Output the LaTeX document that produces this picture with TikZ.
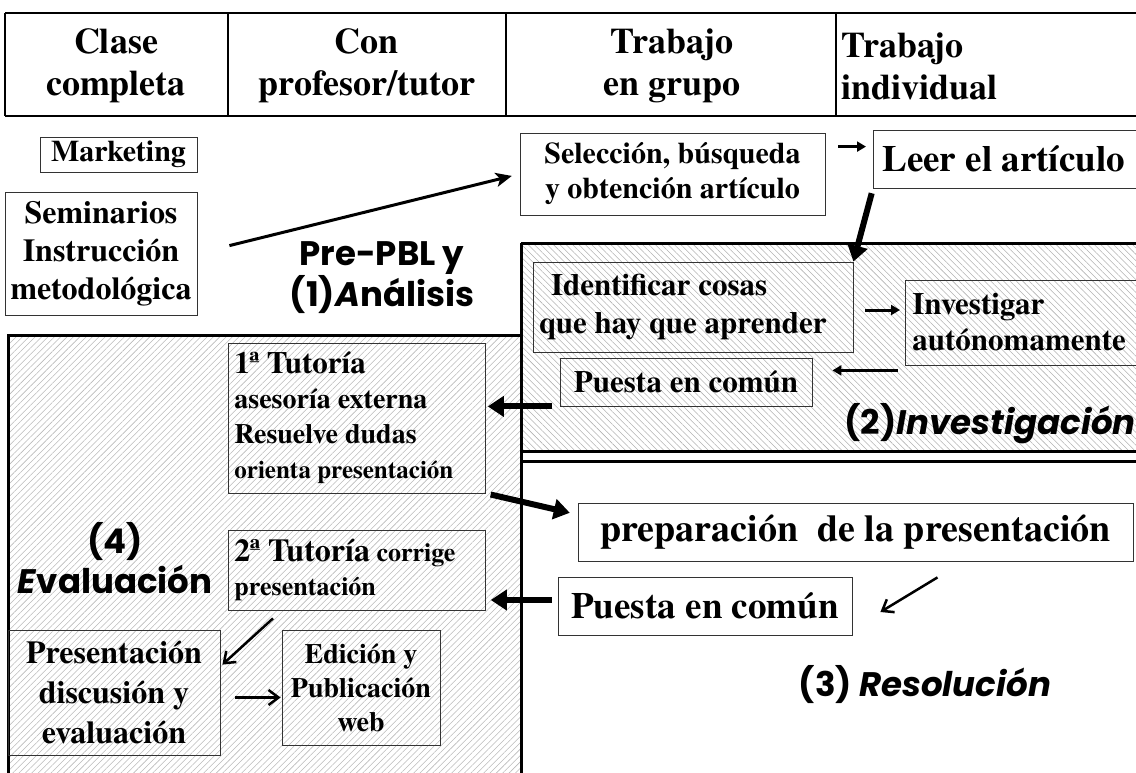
\documentclass[tikz,border=0pt]{standalone}
\usepackage{fontspec}
\setmainfont{texgyretermes}[Extension=.otf,UprightFont=*-regular,BoldFont=*-bold,ItalicFont=*-italic,BoldItalicFont=*-bolditalic]
\newfontfamily\comic{Poppins}
\usetikzlibrary{arrows.meta,patterns.meta,positioning}
\newcommand{\tam}[2]{\fontsize{#1pt}{#2pt}\selectfont}

\begin{document}
\begin{tikzpicture}[x=1pt,y=-1pt,
  caja/.style={draw=black!80,line width=0.8pt,inner sep=0pt},
  fase/.style={font=\comic\bfseries\tam{34}{40},align=center},
  borde/.style={line width=3pt},
  rayasA/.style={pattern={Lines[angle=-45,distance=4.5pt,line width=0.55pt]},pattern color=black!30},
  rayasB/.style={pattern={Lines[angle=45,distance=4.5pt,line width=0.55pt]},pattern color=black!27},
  gruesa/.style={line width=6pt,-{Triangle[length=16pt,width=20pt]}},
  media/.style={line width=3pt,-{Stealth[length=16pt,width=14pt,inset=4pt]}},
  corta/.style={line width=3pt,-{Triangle[length=9pt,width=10pt]}},
  fina/.style={line width=2.5pt,-{Straight Barb[length=10pt,width=15pt]}}]
\clip (0,0) rectangle (1136,773);

% cabecera
\draw[line width=1.5pt] (5,13) -- (1140,13);
\draw[line width=1.5pt] (5,116) -- (1140,116);
\foreach \x in {5,228,506,836}
\draw[line width=1.2pt] (\x,13) -- (\x,116);
\node[font=\bfseries\tam{36}{42},align=center] (clase) at (116,66) {Clase\\completa};
\node[font=\bfseries\tam{36}{42},align=center] (tutor) at (367,66) {Con\\profesor/tutor};
\node[font=\bfseries\tam{36}{42},align=center] (grupo) at (672,66) {Trabajo\\en grupo};
\node[font=\bfseries\tam{36}{42},align=left,anchor=west] (individual) at (838,66) {Trabajo\\individual};

% zonas
\fill[rayasB] (8,335) rectangle (521,780);
\draw[borde] (8,780) -- (8,335) -- (521,335);
\fill[rayasA] (521,243) rectangle (1140,451);
\draw[borde] (521,243) -- (1140,243);
\draw[borde] (521,451) -- (1140,451);
\draw[borde] (521,461) -- (1140,461);
\draw[borde] (521,243) -- (521,780);

% Pre-PBL y (1)
\node[caja,minimum width=157pt,minimum height=35pt,font=\bfseries\tam{30}{32}] (marketing) at (118.5,154.5) {Marketing};
\node[caja,minimum width=192pt,minimum height=123pt,align=center,font=\bfseries\tam{32}{38}] (seminarios) at (101,253.5) {Seminarios\\Instrucción\\metodológica};
\node[caja,minimum width=305pt,minimum height=82pt,align=center,font=\bfseries\tam{30}{35}] (seleccion) at (672.5,174) {Selección, búsqueda\\ y obtención artículo};
\node[caja,anchor=west,minimum height=58pt,text width=254pt,inner xsep=9pt,align=flush left,font=\bfseries\tam{37}{40}] (leer) at (873,159) {Leer el artículo};
\node[fase] (analisis) at (382,278) {Pre-PBL y\\(1)\textit{A}nálisis};

% (2)
\node[caja,minimum width=320pt,minimum height=90pt,text width=308pt,inner xsep=6pt,align=flush left,font=\bfseries\tam{31}{38}] (identificar) at (693,307) {\hspace*{12pt}Identificar cosas\\que hay que aprender};
\node[caja,anchor=west,minimum height=85pt,text width=232pt,inner xsep=7pt,align=flush left,font=\bfseries\tam{31}{36}] (investigar) at (905,322.5) {Investigar\\autónomamente};
\node[caja,minimum width=252pt,minimum height=48pt,font=\bfseries\tam{31}{34}] (puestaB) at (686,382) {Puesta en común};
\node[fase,anchor=west] (investigacion) at (841,424) {(2)\textit{Investigación}};

% (3)
\node[caja,minimum width=555pt,minimum height=58pt,font=\bfseries\tam{38}{40}] (preparacion) at (855.5,532) {preparación\ \ de la presentación};
\node[caja,minimum width=294pt,minimum height=58pt,font=\bfseries\tam{37}{40}] (puestaC) at (705,606) {Puesta en común};
\node[fase] (resolucion) at (925,685) {(3) \textit{Resolución}};

% (4)
\node[caja,anchor=west,minimum height=150pt,text width=245pt,inner xsep=6pt,align=flush left,font=\bfseries\tam{28}{35}] (tutoriaA) at (228,418)
  {{\tam{31}{35}1ª Tutoría}\\asesoría externa\\Resuelve dudas\\{\tam{25}{35}orienta presentación}};
\node[caja,anchor=west,minimum height=80pt,text width=245pt,inner xsep=6pt,align=flush left,font=\bfseries\tam{26}{34}] (tutoriaB) at (228,570)
  {{\tam{32}{34}2ª Tutoría} corrige\\presentación};
\node[fase] (evaluacion) at (115,558) {(4)\\\textit{E}valuación};
\node[caja,minimum width=212pt,minimum height=125pt,align=center,font=\bfseries\tam{32}{40}] (presentacion) at (114,692.5) {Presentación\\discusión y\\evaluación};
\node[caja,minimum width=158pt,minimum height=115pt,align=center,font=\bfseries\tam{28}{34}] (edicion) at (361,687.5) {Edición y\\Publicación\\web};

% flechas
\draw[media,shorten <=33pt,shorten >=8pt] (seminarios.east) -- (seleccion.west);
\draw[corta] ([xshift=13pt,yshift=-14pt]seleccion.north east) -- ([xshift=-7pt,yshift=-14pt]seleccion.north east -| leer.west);
\draw[gruesa,shorten <=5pt] (leer.south west) -- (identificar.north east);
\draw[corta,shorten <=12pt,shorten >=5pt] ([yshift=-3pt]identificar.east) -- ([yshift=-3pt]identificar.east -| investigar.west);
\draw[corta,shorten <=7pt,shorten >=20pt] ([yshift=-5pt]investigar.south west) -- ([yshift=-5pt]investigar.south west -| puestaB.east);
\draw[gruesa,shorten <=8pt,shorten >=2pt] (puestaB.south west) -- (puestaB.south west -| tutoriaA.east);
\draw[gruesa,shorten <=5pt,shorten >=8pt] (tutoriaA.south east) -- ([yshift=-12pt]preparacion.north west);
\draw[fina] ([xshift=82pt,yshift=-16pt]preparacion.south) -- ([xshift=28pt,yshift=-6pt]puestaC.east);
\draw[gruesa,shorten <=6pt,shorten >=5pt] ([yshift=6pt]puestaC.west) -- ([yshift=6pt]puestaC.west -| tutoriaB.east);
\draw[fina] ([xshift=45pt,yshift=-8pt]tutoriaB.south west) -- ([xshift=2pt,yshift=-35pt]presentacion.north east);
\draw[fina,shorten <=15pt,shorten >=1pt] ([yshift=-5pt]presentacion.east) -- ([yshift=-5pt]presentacion.east -| edicion.west);
\end{tikzpicture}
\end{document}
